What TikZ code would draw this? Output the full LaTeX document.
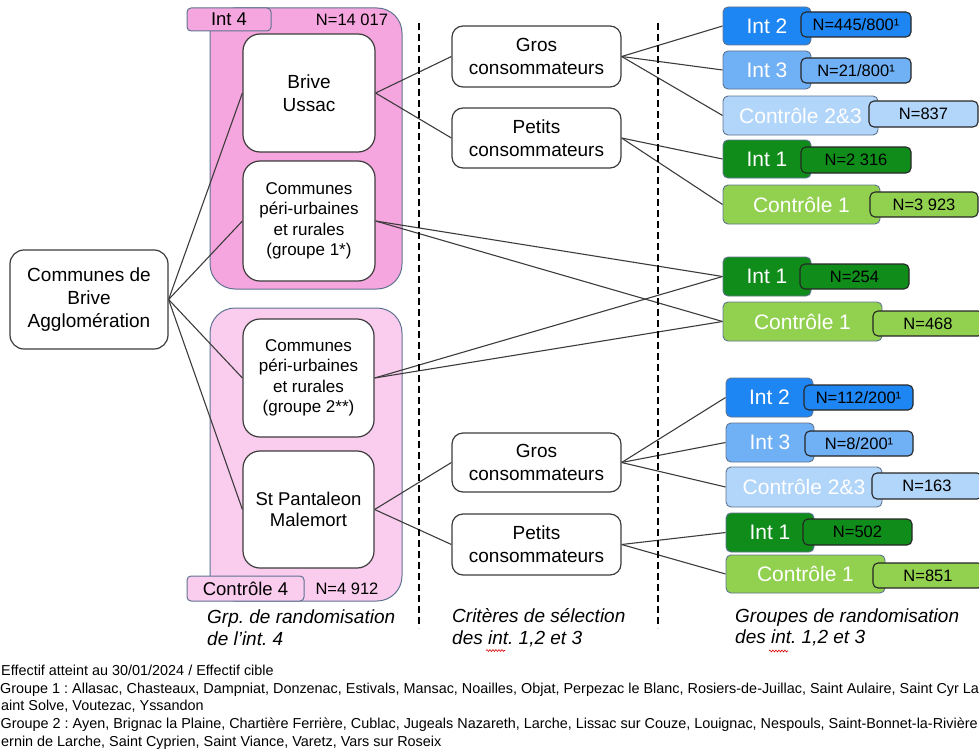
\documentclass[tikz,border=0pt]{standalone}
\usepackage{fontspec}
\setmainfont{Liberation Sans}
\usetikzlibrary{decorations.pathmorphing}
\pgfdeclarelayer{back}
\pgfdeclarelayer{mid}
\pgfsetlayers{back,mid,main}
\definecolor{pinkA}{RGB}{246,166,222}
\definecolor{pinkB}{RGB}{250,204,238}
\definecolor{frame}{RGB}{95,115,145}
\definecolor{blueA}{RGB}{30,134,242}
\definecolor{blueB}{RGB}{112,176,245}
\definecolor{blueC}{RGB}{178,213,250}
\definecolor{greenA}{RGB}{16,140,26}
\definecolor{greenB}{RGB}{146,208,80}
\definecolor{ink}{RGB}{60,60,60}
\frenchspacing
\begin{document}
\begin{tikzpicture}[x=1pt,y=-1pt,
  container/.style={draw=frame, line width=1pt, rounded corners=25pt, inner sep=0pt},
  tabbox/.style={draw=frame, line width=1pt, rounded corners=4pt, inner sep=0pt, font=\fontsize{18.5}{21}\selectfont},
  ntext/.style={inner sep=0pt, font=\fontsize{16.5}{20}\selectfont},
  wbox/.style={draw=ink, line width=1.2pt, fill=white, inner sep=0pt, align=center},
  bigtxt/.style={font=\fontsize{19}{23}\selectfont},
  smalltxt/.style={font=\fontsize{17}{20.5}\selectfont},
  rbox/.style={draw=frame, line width=0.9pt, rounded corners=5pt, inner sep=0pt, text=white, font=\fontsize{21}{24}\selectfont},
  nbox/.style={draw=black!85, line width=1.1pt, rounded corners=5pt, inner sep=0pt, font=\fontsize{16.5}{20}\selectfont},
  link/.style={draw=ink, line width=1.1pt},
  sepline/.style={draw=black, line width=1.8pt, dash pattern=on 7pt off 4pt},
  caption/.style={anchor=west, align=left, inner sep=0pt, font=\itshape\fontsize{19}{21.5}\selectfont},
  squiggle/.style={draw=red!85!black, line width=0.6pt, decorate, decoration={snake, amplitude=0.9pt, segment length=3pt}},
  foot/.style={anchor=base west, inner sep=0pt, font=\fontsize{14.4}{17}\selectfont}
]
\useasboundingbox (0,0) rectangle (979,752);
\clip (0,0) rectangle (979,752);

% containers
\begin{pgfonlayer}{back}
\node[container, fill=pinkA, minimum width=192pt, minimum height=281pt] (c4) at (306,148.5) {};
\node[container, fill=pinkB, minimum width=192pt, minimum height=293pt] (k4) at (306,454.5) {};
\end{pgfonlayer}

% tabs
\node[tabbox, fill=pinkA, minimum width=84pt, minimum height=23pt] (t4) at (229,19.5) {Int 4};
\node[ntext] (n4) at (352,19.5) {N=14 017};
\node[tabbox, fill=pinkB, minimum width=117pt, minimum height=25pt] (tk4) at (245.5,588.5) {Contrôle 4};
\node[ntext] (nk4) at (347,588.5) {N=4 912};

% separators
\coordinate (s1a) at (419,23);
\coordinate (s1b) at (419,628);
\coordinate (s2a) at (658,23);
\coordinate (s2b) at (658,628);
\draw[sepline] (s1a) -- (s1b);
\draw[sepline] (s2a) -- (s2b);

% white boxes
\node[wbox, bigtxt, rounded corners=14pt, minimum width=158pt, minimum height=99pt] (root) at (89,299.5) {Communes de\\Brive\\Agglomération};
\node[wbox, bigtxt, rounded corners=17pt, minimum width=132pt, minimum height=118pt] (brive) at (309,93) {Brive\\Ussac};
\node[wbox, smalltxt, rounded corners=17pt, minimum width=132pt, minimum height=120pt] (g1) at (309,221) {Communes\\péri-urbaines\\et rurales\\(groupe 1*)};
\node[wbox, smalltxt, rounded corners=17pt, minimum width=131pt, minimum height=118pt] (g2) at (308.5,378) {Communes\\péri-urbaines\\et rurales\\(groupe 2**)};
\node[wbox, font=\fontsize{18.5}{21.5}\selectfont, rounded corners=17pt, minimum width=131pt, minimum height=117pt] (stp) at (308.5,509.5) {St Pantaleon\\Malemort};

\node[wbox, bigtxt, rounded corners=11pt, minimum width=169pt, minimum height=61pt] (grosA) at (536.5,56.5) {Gros\\consommateurs};
\node[wbox, bigtxt, rounded corners=11pt, minimum width=169pt, minimum height=60pt] (petA) at (536.5,138) {Petits\\consommateurs};
\node[wbox, bigtxt, rounded corners=11pt, minimum width=169pt, minimum height=59pt] (grosB) at (536.5,462.5) {Gros\\consommateurs};
\node[wbox, bigtxt, rounded corners=11pt, minimum width=169pt, minimum height=61pt] (petB) at (536.5,544.5) {Petits\\consommateurs};

% right boxes, top group
\node[rbox, fill=blueA, minimum width=88pt, minimum height=38pt] (int2a) at (767,26) {Int 2};
\node[nbox, fill=blueA, minimum width=110pt, minimum height=25pt] (n2a) at (856,24.5) {N=445/800¹};
\node[rbox, fill=blueB, minimum width=88pt, minimum height=38pt] (int3a) at (767,70) {Int 3};
\node[nbox, fill=blueB, minimum width=110pt, minimum height=25pt] (n3a) at (856,70.5) {N=21/800¹};
\node[rbox, fill=blueC, minimum width=155pt, minimum height=39pt] (c23a) at (800.5,115.5) {Contrôle 2\&3};
\node[nbox, fill=blueC, minimum width=109pt, minimum height=26pt] (nc23a) at (923.5,114) {N=837};
\node[rbox, fill=greenA, minimum width=88pt, minimum height=38pt] (int1a) at (767,159) {Int 1};
\node[nbox, fill=greenA, minimum width=110pt, minimum height=26pt] (n1a) at (856,160) {N=2 316};
\node[rbox, fill=greenB, minimum width=157pt, minimum height=39pt] (c1a) at (801.5,204.5) {Contrôle 1};
\node[nbox, fill=greenB, minimum width=108pt, minimum height=25pt] (nc1a) at (924,204.5) {N=3 923};

% right boxes, middle group
\node[rbox, fill=greenA, minimum width=88pt, minimum height=39pt] (int1b) at (767,276.5) {Int 1};
\node[nbox, fill=greenA, minimum width=109pt, minimum height=25pt] (n1b) at (854.5,276.5) {N=254};
\node[rbox, fill=greenB, minimum width=159pt, minimum height=39pt] (c1b) at (802.5,321.5) {Contrôle 1};
\node[nbox, fill=greenB, minimum width=110pt, minimum height=25pt] (nc1b) at (928,323.5) {N=468};

% right boxes, bottom group
\node[rbox, fill=blueA, minimum width=87pt, minimum height=39pt] (int2c) at (769.5,397.5) {Int 2};
\node[nbox, fill=blueA, minimum width=109pt, minimum height=25pt] (n2c) at (858.5,397.5) {N=112/200¹};
\node[rbox, fill=blueB, minimum width=88pt, minimum height=39pt] (int3c) at (770,442.5) {Int 3};
\node[nbox, fill=blueB, minimum width=108pt, minimum height=25pt] (n3c) at (859,443.5) {N=8/200¹};
\node[rbox, fill=blueC, minimum width=156pt, minimum height=40pt] (c23c) at (804,487) {Contrôle 2\&3};
\node[nbox, fill=blueC, minimum width=110pt, minimum height=26pt] (nc23c) at (927,486) {N=163};
\node[rbox, fill=greenA, minimum width=88pt, minimum height=39pt] (int1c) at (770,532.5) {Int 1};
\node[nbox, fill=greenA, minimum width=109pt, minimum height=26pt] (n1c) at (857.5,532) {N=502};
\node[rbox, fill=greenB, minimum width=159pt, minimum height=38pt] (c1c) at (805.5,574) {Contrôle 1};
\node[nbox, fill=greenB, minimum width=110pt, minimum height=25pt] (nc1c) at (928,575.5) {N=851};

% connectors
\begin{pgfonlayer}{mid}
\foreach \t in {brive,g1,g2,stp} \draw[link] (root.east) -- (\t.west);
\foreach \t in {grosA,petA} \draw[link] (brive.east) -- (\t.west);
\foreach \t in {int2a,int3a,c23a} \draw[link] (grosA.east) -- (\t.west);
\foreach \t in {int1a,c1a} \draw[link] (petA.east) -- (\t.west);
\foreach \t in {int1b,c1b} \draw[link] (g1.east) -- (\t.west);
\foreach \t in {int1b,c1b} \draw[link] (g2.east) -- (\t.west);
\foreach \t in {grosB,petB} \draw[link] (stp.east) -- (\t.west);
\foreach \t in {int2c,int3c,c23c} \draw[link] (grosB.east) -- (\t.west);
\foreach \t in {int1c,c1c} \draw[link] (petB.east) -- (\t.west);
\end{pgfonlayer}

% captions
\node[caption] (lab1) at (207,627.5) {Grp. de randomisation\\de l’int. 4};
\node[caption] (lab2) at (452,627.5) {Critères de sélection\\des int. 1,2 et 3};
\node[caption] (lab3) at (735,627.5) {Groupes de randomisation\\des int. 1,2 et 3};
\coordinate (w2a) at (486,650.5);
\coordinate (w2b) at (505,650.5);
\coordinate (w3a) at (769,651);
\coordinate (w3b) at (788,651);
\draw[squiggle] (w2a) -- (w2b);
\draw[squiggle] (w3a) -- (w3b);

% footnotes
\node[foot] (f1) at (1,675) {Effectif atteint au 30/01/2024 / Effectif cible};
\node[foot] (f2) at (0,693) {Groupe 1 : Allasac, Chasteaux, Dampniat, Donzenac, Estivals, Mansac, Noailles, Objat, Perpezac le Blanc, Rosiers-de-Juillac, Saint Aulaire, Saint Cyr La};
\node[foot] (f3) at (1,710.5) {aint Solve, Voutezac, Yssandon};
\node[foot] (f4) at (0.5,728) {Groupe 2 : Ayen, Brignac la Plaine, Chartière Ferrière, Cublac, Jugeals Nazareth, Larche, Lissac sur Couze, Louignac, Nespouls, Saint-Bonnet-la-Rivière};
\node[foot] (f5) at (1,746) {ernin de Larche, Saint Cyprien, Saint Viance, Varetz, Vars sur Roseix};
\end{tikzpicture}
\end{document}
